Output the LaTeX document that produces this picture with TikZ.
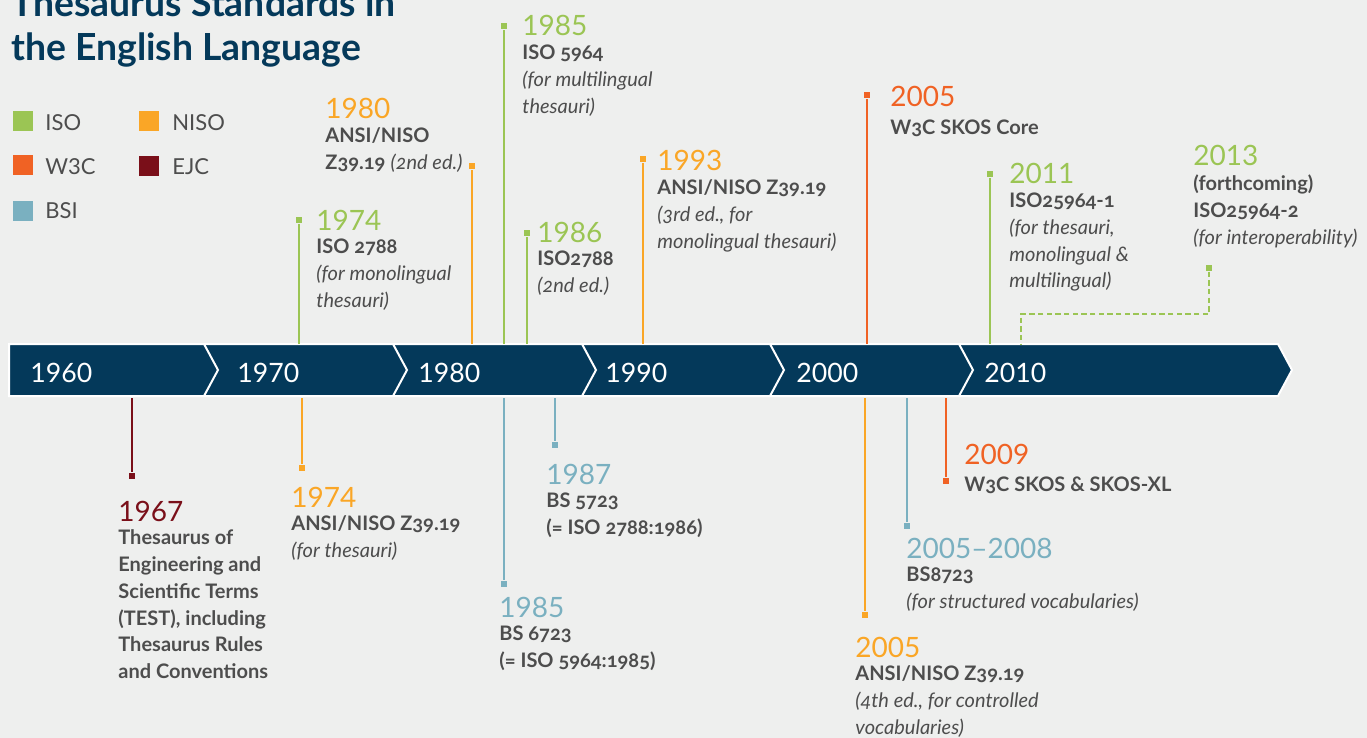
\documentclass[tikz,border=0pt]{standalone}
\usepackage{fontspec}
\setmainfont{Lato}
\newfontfamily\numfont{Lato}[Numbers=OldStyle]
\usepackage{tikz}
\usetikzlibrary{positioning}
\usepackage{xcolor}

\definecolor{bgcol}{RGB}{238,239,238}
\definecolor{navy}{RGB}{4,57,90}
\definecolor{iso}{RGB}{155,197,84}
\definecolor{niso}{RGB}{250,166,38}
\definecolor{wthree}{RGB}{240,98,36}
\definecolor{ejc}{RGB}{122,15,25}
\definecolor{bsi}{RGB}{122,176,192}
\definecolor{txt}{RGB}{77,77,77}

\begin{document}
\begin{tikzpicture}[x=0.75pt,y=-0.75pt,semithick]
  \tikzstyle{endsq}=[rectangle,inner sep=0pt,minimum size=5pt]
  \tikzstyle{stem}=[line width=1.4pt]
  \tikzstyle{yr}=[anchor=base west,inner sep=0pt,font=\fontsize{21}{21}\selectfont]
  \tikzstyle{info}=[anchor=north west,inner sep=0pt,align=left,text=txt,
                    font=\fontsize{15}{20.1}\selectfont\numfont,execute at begin node=\strut]
  \tikzstyle{under}=[below=6.3pt of #1.base west,anchor=north west]
  \tikzstyle{decade}=[anchor=base west,inner sep=0pt,text=white,font=\fontsize{20}{20}\selectfont]
  \tikzstyle{lgdsq}=[rectangle,inner sep=0pt,minimum size=15.5pt]
  \tikzstyle{lgd}=[anchor=base west,inner sep=0pt,text=txt,font=\fontsize{16.5}{16.5}\selectfont]
  \tikzstyle{ttl}=[anchor=base west,inner sep=0pt,text=navy,font=\fontsize{28}{28}\selectfont\bfseries]

  \fill[bgcol] (0,0) rectangle (1367,738);
  \useasboundingbox (0,0) rectangle (1367,738);

  % title
  \node[ttl] (ttl1) at (11,17) {Thesaurus Standards in};
  \node[ttl] (ttl2) at (11,61) {the English Language};

  % legend
  \node[lgdsq,fill=iso]    (kiso)  at (23,121) {};
  \node[lgdsq,fill=wthree] (kw3c)  at (23,165) {};
  \node[lgdsq,fill=bsi]    (kbsi)  at (23,211) {};
  \node[lgdsq,fill=niso]   (kniso) at (149,121) {};
  \node[lgdsq,fill=ejc]    (kejc)  at (149,166) {};
  \node[lgd] (liso)  at (45,131)  {ISO};
  \node[lgd] (lw3c)  at (45,175)  {W3C};
  \node[lgd] (lbsi)  at (45,219)  {BSI};
  \node[lgd] (lniso) at (172,131) {NISO};
  \node[lgd] (lejc)  at (172,175) {EJC};

  % timeline band
  \fill[navy,draw=white,line width=1.5pt] (9,344) -- (1278,344) -- (1292,370)
        -- (1278,396) -- (9,396) -- cycle;
  \foreach \cx in {204,393,582,770,959}
    \draw[white,line width=1.5pt] (\cx,344) -- (\cx+14,370) -- (\cx,396);
  \foreach \d/\lx in {1960/30,1970/237,1980/418,1990/605,2000/796,2010/984}
    \node[decade] (d\d) at (\lx,382) {\d};

  % above the band
  \coordinate (t74i) at (299,344);
  \coordinate (t80n) at (472,344);
  \coordinate (t85i) at (504,344);
  \coordinate (t86i) at (527,344);
  \coordinate (t93n) at (643,344);
  \coordinate (t05w) at (867,344);
  \coordinate (t11i) at (990,344);
  \coordinate (t13i) at (1021,344);

  \node[endsq,fill=iso]    (m74i) at (299,220) {};
  \node[endsq,fill=niso]   (m80n) at (472,166) {};
  \node[endsq,fill=iso]    (m85i) at (504,26)  {};
  \node[endsq,fill=iso]    (m86i) at (527,233) {};
  \node[endsq,fill=niso]   (m93n) at (643,159) {};
  \node[endsq,fill=wthree] (m05w) at (867,95)  {};
  \node[endsq,fill=iso]    (m11i) at (990,174) {};
  \node[endsq,fill=iso]    (m13i) at (1209,268) {};
  \coordinate (k13a) at (1209,314);
  \coordinate (k13b) at (1021,314);

  \node[yr,text=iso]    (y74i) at (316,230)  {1974};
  \node[info,under=y74i] (i74i) {\textbf{ISO 2788}\\\textit{(for monolingual}\\\textit{thesauri)}};
  \node[yr,text=niso]   (y80n) at (325,119)  {1980};
  \node[info,under=y80n] (i80n) {\textbf{ANSI/NISO}\\\textbf{Z39.19} \textit{(2nd ed.)}};
  \node[yr,text=iso]    (y85i) at (522,36)   {1985};
  \node[info,under=y85i] (i85i) {\textbf{ISO 5964}\\\textit{(for multilingual}\\\textit{thesauri)}};
  \node[yr,text=iso]    (y86i) at (537,242)  {1986};
  \node[info,under=y86i] (i86i) {\textbf{ISO2788}\\\textit{(2nd ed.)}};
  \node[yr,text=niso]   (y93n) at (657,171)  {1993};
  \node[info,under=y93n] (i93n) {\textbf{ANSI/NISO Z39.19}\\\textit{(3rd ed., for}\\\textit{monolingual thesauri)}};
  \node[yr,text=wthree] (y05w) at (890,107)  {2005};
  \node[info,under=y05w] (i05w) {\textbf{W3C SKOS Core}};
  \node[yr,text=iso]    (y11i) at (1009,184) {2011};
  \node[info,under=y11i] (i11i) {\textbf{ISO25964-1}\\\textit{(for thesauri,}\\\textit{monolingual \&}\\\textit{multilingual)}};
  \node[yr,text=iso]    (y13i) at (1193,166) {2013};
  \node[info,under=y13i] (i13i) {\textbf{(forthcoming)}\\\textbf{ISO25964-2}\\\textit{(for interoperability)}};

  \draw[stem,iso]    (t74i) -- (m74i);
  \draw[stem,niso]   (t80n) -- (m80n);
  \draw[stem,iso]    (t85i) -- (m85i);
  \draw[stem,iso]    (t86i) -- (m86i);
  \draw[stem,niso]   (t93n) -- (m93n);
  \draw[stem,wthree] (t05w) -- (m05w);
  \draw[stem,iso]    (t11i) -- (m11i);
  \draw[iso,line width=1.1pt,dash pattern=on 4pt off 2.5pt] (m13i) -- (k13a) -- (k13b) -- (t13i);

  % below the band
  \coordinate (b67e) at (132,398);
  \coordinate (b74n) at (302,398);
  \coordinate (b85b) at (504,398);
  \coordinate (b87b) at (555,398);
  \coordinate (b05n) at (865,398);
  \coordinate (b05b) at (907,398);
  \coordinate (b09w) at (946,398);

  \node[endsq,fill=ejc]    (m67e) at (132,476) {};
  \node[endsq,fill=niso]   (m74n) at (302,468) {};
  \node[endsq,fill=bsi]    (m85b) at (504,584) {};
  \node[endsq,fill=bsi]    (m87b) at (555,445) {};
  \node[endsq,fill=niso]   (m05n) at (865,615) {};
  \node[endsq,fill=bsi]    (m05b) at (907,526) {};
  \node[endsq,fill=wthree] (m09w) at (946,481) {};

  \node[yr,text=ejc]    (y67e) at (118,521) {1967};
  \node[info,under=y67e] (i67e) {\textbf{Thesaurus of}\\\textbf{Engineering and}\\\textbf{Scientific Terms}\\\textbf{(TEST), including}\\\textbf{Thesaurus Rules}\\\textbf{and Conventions}};
  \node[yr,text=niso]   (y74n) at (291,507) {1974};
  \node[info,under=y74n] (i74n) {\textbf{ANSI/NISO Z39.19}\\\textit{(for thesauri)}};
  \node[yr,text=bsi]    (y85b) at (499,617) {1985};
  \node[info,under=y85b] (i85b) {\textbf{BS 6723}\\\textbf{(= ISO 5964:1985)}};
  \node[yr,text=bsi]    (y87b) at (546,484) {1987};
  \node[info,under=y87b] (i87b) {\textbf{BS 5723}\\\textbf{(= ISO 2788:1986)}};
  \node[yr,text=niso]   (y05n) at (855,657) {2005};
  \node[info,under=y05n] (i05n) {\textbf{ANSI/NISO Z39.19}\\\textit{(4th ed., for controlled}\\\textit{vocabularies)}};
  \node[yr,text=bsi]    (y05b) at (906,558) {2005--2008};
  \node[info,under=y05b] (i05b) {\textbf{BS8723}\\\textit{(for structured vocabularies)}};
  \node[yr,text=wthree] (y09w) at (964,464) {2009};
  \node[info,under=y09w] (i09w) {\textbf{W3C SKOS \& SKOS-XL}};

  \draw[stem,ejc]    (b67e) -- (m67e);
  \draw[stem,niso]   (b74n) -- (m74n);
  \draw[stem,bsi]    (b85b) -- (m85b);
  \draw[stem,bsi]    (b87b) -- (m87b);
  \draw[stem,niso]   (b05n) -- (m05n);
  \draw[stem,bsi]    (b05b) -- (m05b);
  \draw[stem,wthree] (b09w) -- (m09w);
\end{tikzpicture}
\end{document}
